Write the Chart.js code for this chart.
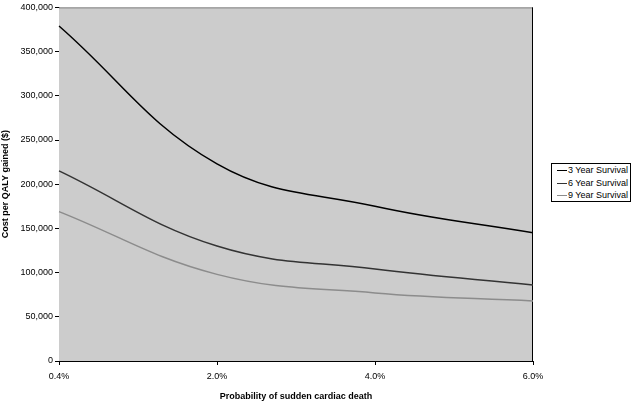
<!DOCTYPE html>
<html>
<head>
<meta charset="utf-8">
<script src="https://cdn.jsdelivr.net/npm/chart.js@4"></script>
<style>
  body { margin: 0; background: #fff; }
  #wrap { position: relative; width: 633px; height: 402px; }
  #legend {
    position: absolute; left: 551px; top: 163px; width: 80px; height: 39px;
    border: 1px solid #000; background: #fff;
    font: 9px "Liberation Sans", Arial, sans-serif; color: #000;
    padding: 0 0 0 5px; box-sizing: border-box;
  }
  #legend div { height: 12.5px; line-height: 12.5px; white-space: nowrap; }
  #legend span { display: inline-block; width: 10px; height: 0; vertical-align: middle; margin-right: 1px; }
</style>
</head>
<body>
<div id="wrap">
  <canvas id="cea" width="633" height="402"></canvas>
  <div id="legend"></div>
</div>
<script>
// Chart data
const probabilities = ['0.4%', '2.0%', '4.0%', '6.0%'];
const seriesNames = ['3 Year Survival', '6 Year Survival', '9 Year Survival'];
const survival3 = [379000, 223000, 175000, 145000];
const survival6 = [215000, 130000, 104000, 86000];
const survival9 = [169000, 98000, 77000, 68000];
const lineColors = ['#000000', '#333333', '#8c8c8c'];

const font = { family: '"Liberation Sans", Arial, sans-serif', size: 9 };

// Grey plot background plus the top/right frame lines
const plotFrame = {
    id: 'plotFrame',
    beforeDatasetsDraw(chart) {
        const { ctx, chartArea: a } = chart;
        ctx.save();
        ctx.fillStyle = '#cccccc';
        ctx.fillRect(a.left, a.top, a.right - a.left, a.bottom - a.top);
        ctx.lineWidth = 1;
        ctx.strokeStyle = '#808080';
        ctx.beginPath();
        ctx.moveTo(a.left, a.top + 0.5);
        ctx.lineTo(a.right, a.top + 0.5);
        ctx.stroke();
        ctx.strokeStyle = '#000';
        ctx.beginPath();
        ctx.moveTo(a.right - 0.5, a.top);
        ctx.lineTo(a.right - 0.5, a.bottom);
        ctx.stroke();
        ctx.restore();
    }
};

const allSeries = [survival3, survival6, survival9];

new Chart(document.getElementById('cea').getContext('2d'), {
    type: 'line',
    data: {
        labels: probabilities,
        datasets: allSeries.map((vals, i) => ({
            label: seriesNames[i],
            data: vals,
            borderColor: lineColors[i],
            borderWidth: 1.5,
            pointRadius: 0,
            tension: 0.4,
            fill: false
        }))
    },
    options: {
        responsive: false,
        animation: false,
        layout: { padding: { top: 0, right: 100, left: 0, bottom: 0 } },
        plugins: { legend: { display: false }, tooltip: { enabled: false } },
        scales: {
            x: {
                offset: false,
                grid: { display: true, drawOnChartArea: false, color: '#000', tickLength: 4, tickColor: '#000' },
                border: { color: '#000', width: 1 },
                ticks: { color: '#000', font: font, padding: 6, maxRotation: 0 },
                title: { display: true, text: 'Probability of sudden cardiac death', color: '#000',
                         font: { ...font, weight: 'bold' }, padding: { top: 6, bottom: 0 } },
                afterFit: (s) => { s.height = 41; }
            },
            y: {
                min: 0,
                max: 400000,
                ticks: { stepSize: 50000, color: '#000', font: font, padding: 2,
                         callback: (v) => v.toLocaleString('en-US') },
                grid: { display: true, drawOnChartArea: false, color: '#000', tickLength: 4, tickColor: '#000' },
                border: { color: '#000', width: 1 },
                title: { display: true, text: 'Cost per QALY gained ($)', color: '#000',
                         font: { ...font, weight: 'bold' }, padding: { top: 0, bottom: 6 } },
                afterFit: (s) => { s.width = 59; }
            }
        }
    },
    plugins: [plotFrame]
});

// HTML legend box on the right
const legend = document.getElementById('legend');
seriesNames.forEach((name, i) => {
    const row = document.createElement('div');
    row.innerHTML = `<span style="border-top:1.5px solid ${lineColors[i]}"></span>${name}`;
    legend.appendChild(row);
});
</script>
</body>
</html>
